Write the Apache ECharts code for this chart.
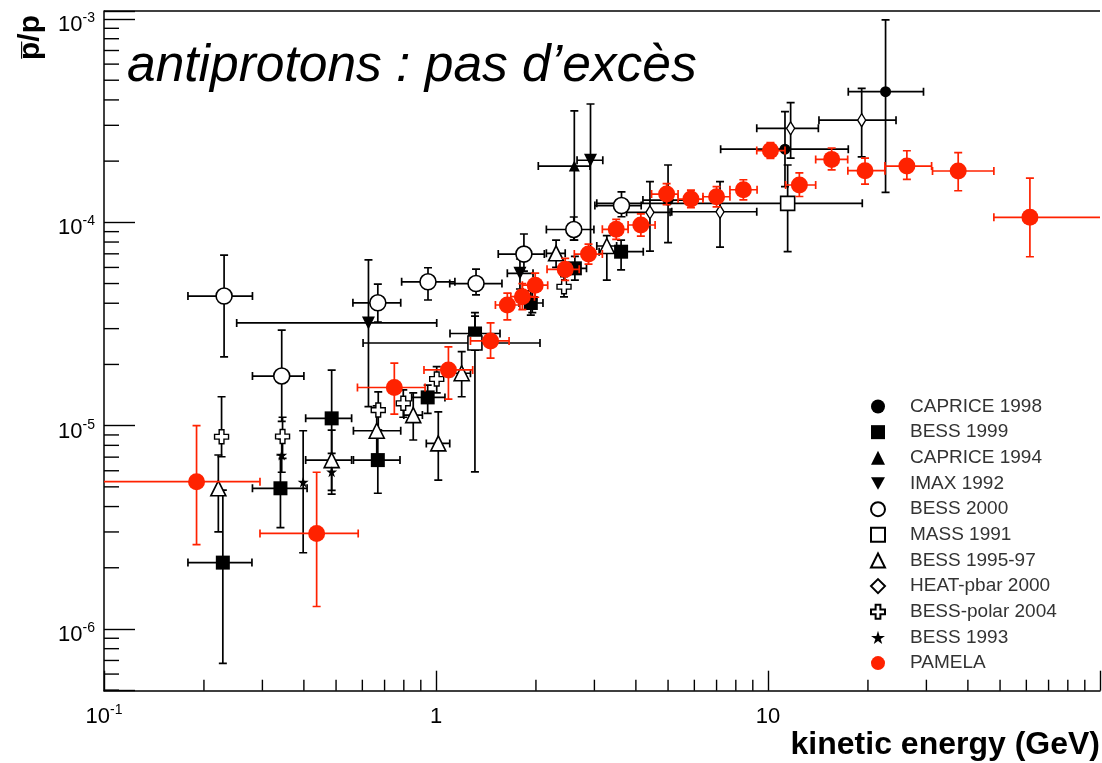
<!DOCTYPE html>
<html><head><meta charset="utf-8">
<script src="https://cdn.jsdelivr.net/npm/echarts@6/dist/echarts.min.js"></script>
<style>html,body{margin:0;padding:0;background:#fff}#c{width:1102px;height:763px}</style>
</head><body><div id="c"></div>
<script>
const FONT = "'Liberation Sans', Arial, Helvetica, sans-serif";

// axis ranges (values)
const X_MIN = 0.1, X_MAX = 100;
const Y_MIN = 4.97e-7, Y_MAX = 1.095e-3;

// each row: [energy, pbar/p, xLow, xHigh, yLow, yHigh]  (0 = no bar)
const caprice1998 = [
  [5.0, 1.287e-4, 4.2, 5.95, 7.94e-5, 1.914e-4],
  [11.25, 2.29e-4, 7.2, 17.45, 1.5e-4, 3.5e-4],
  [22.6, 4.39e-4, 17.45, 29.4, 1.405e-4, 9.9e-4]
];
const bess1999 = [
  [0.228, 2.12e-6, 0.179, 0.279, 6.77e-7, 4.82e-6],
  [0.340, 4.92e-6, 0.280, 0.409, 3.15e-6, 7.17e-6],
  [0.485, 1.086e-5, 0.405, 0.557, 6.5e-6, 1.877e-5],
  [0.668, 6.77e-6, 0.564, 0.779, 4.65e-6, 9.51e-6],
  [0.944, 1.377e-5, 0.845, 1.064, 1.149e-5, 1.584e-5],
  [1.311, 2.84e-5, 1.102, 1.559, 2.35e-5, 3.46e-5],
  [1.93, 4.01e-5, 1.78, 2.10, 3.5e-5, 4.6e-5],
  [2.62, 5.94e-5, 2.42, 2.84, 5.2e-5, 6.8e-5],
  [3.61, 7.17e-5, 3.10, 4.21, 5.83e-5, 8.18e-5]
];
const caprice1994 = [
  [2.61, 1.892e-4, 2.033, 2.91, 8.18e-5, 3.53e-4]
];
const imax1992 = [
  [0.626, 3.2e-5, 0.251, 1.005, 1.24e-5, 6.53e-5],
  [1.79, 5.61e-5, 1.64, 1.96, 4.7e-5, 6.6e-5],
  [2.92, 2.02e-4, 2.66, 3.18, 7.3e-5, 3.82e-4]
];
const bess2000 = [
  [0.230, 4.34e-5, 0.179, 0.280, 2.18e-5, 6.9e-5],
  [0.343, 1.754e-5, 0.280, 0.400, 1.05e-5, 2.95e-5],
  [0.668, 4.02e-5, 0.562, 0.783, 3.23e-5, 4.97e-5],
  [0.946, 5.1e-5, 0.788, 1.14, 4.15e-5, 5.98e-5],
  [1.32, 5.0e-5, 1.10, 1.58, 4.4e-5, 5.89e-5],
  [1.84, 6.98e-5, 1.54, 2.12, 5.76e-5, 8.76e-5],
  [2.60, 9.22e-5, 2.15, 2.99, 8.18e-5, 1.062e-4],
  [3.62, 1.209e-4, 3.01, 4.15, 1.065e-4, 1.413e-4]
];
const mass1991 = [
  [1.31, 2.55e-5, 0.603, 2.057, 5.93e-6, 3.6e-5],
  [11.46, 1.24e-4, 3.05, 19.23, 7.17e-5, 1.914e-4]
];
const bess199597 = [
  [0.221, 4.92e-6, 0, 0, 3.0e-6, 7.17e-6],
  [0.485, 6.77e-6, 0.405, 0.557, 4.6e-6, 9.5e-6],
  [0.663, 9.44e-6, 0.564, 0.783, 7.2e-6, 1.25e-5],
  [0.854, 1.127e-5, 0.80, 0.91, 8.5e-6, 1.45e-5],
  [1.016, 8.18e-6, 0.935, 1.10, 5.4e-6, 1.17e-5],
  [1.195, 1.81e-5, 1.12, 1.27, 1.387e-5, 2.31e-5],
  [2.30, 7.04e-5, 2.15, 2.45, 6.0e-5, 8.18e-5],
  [3.27, 7.65e-5, 3.05, 3.50, 5.2e-5, 8.6e-5]
];
const heat2000 = [
  [4.41, 1.12e-4, 3.75, 5.07, 7.22e-5, 1.584e-4],
  [7.17, 1.127e-4, 5.13, 9.25, 7.56e-5, 1.584e-4],
  [11.7, 2.9e-4, 9.25, 14.18, 2.07e-4, 3.88e-4],
  [19.15, 3.18e-4, 14.24, 24.3, 2.1e-4, 4.56e-4]
];
const bessPolar2004 = [
  [0.226, 8.82e-6, 0, 0, 7.03e-6, 1.387e-5],
  [0.345, 8.84e-6, 0, 0, 6.9e-6, 1.1e-5],
  [0.670, 1.193e-5, 0, 0, 9.5e-6, 1.467e-5],
  [0.797, 1.288e-5, 0, 0, 1.1e-5, 1.5e-5],
  [1.005, 1.696e-5, 0, 0, 1.45e-5, 1.95e-5],
  [2.43, 4.82e-5, 0, 0, 4.3e-5, 5.4e-5]
];
const bess1993 = [
  [0.343, 7.17e-6, 0, 0, 5.9e-6, 8.6e-6],
  [0.398, 5.28e-6, 0, 0, 2.37e-6, 9.44e-6],
  [0.485, 5.93e-6, 0, 0, 4.8e-6, 7.3e-6],
  [1.95, 4.1e-5, 0, 0, 3.6e-5, 4.7e-5]
];
const pamela = [
  [0.19, 5.3e-6, 0.06, 0.295, 2.6e-6, 1.0e-5],
  [0.437, 2.95e-6, 0.295, 0.583, 1.29e-6, 5.9e-6],
  [0.749, 1.54e-5, 0.58, 0.927, 1.14e-5, 2.03e-5],
  [1.09, 1.88e-5, 0.92, 1.29, 1.35e-5, 2.44e-5],
  [1.46, 2.61e-5, 1.27, 1.66, 2.15e-5, 3.2e-5],
  [1.64, 3.92e-5, 1.51, 1.79, 3.31e-5, 4.49e-5],
  [1.82, 4.31e-5, 1.68, 1.98, 3.72e-5, 5.0e-5],
  [1.99, 4.91e-5, 1.82, 2.17, 4.28e-5, 5.63e-5],
  [2.45, 5.87e-5, 2.16, 2.70, 5.18e-5, 6.65e-5],
  [2.88, 6.98e-5, 2.61, 3.17, 6.23e-5, 7.82e-5],
  [3.49, 9.24e-5, 3.17, 3.79, 8.25e-5, 1.035e-4],
  [4.14, 9.70e-5, 3.79, 4.57, 8.56e-5, 1.10e-4],
  [4.95, 1.377e-4, 4.46, 5.36, 1.22e-4, 1.55e-4],
  [5.86, 1.302e-4, 5.36, 6.37, 1.18e-4, 1.44e-4],
  [7.0, 1.336e-4, 6.37, 7.68, 1.19e-4, 1.50e-4],
  [8.43, 1.446e-4, 7.68, 9.27, 1.29e-4, 1.62e-4],
  [10.17, 2.255e-4, 9.25, 11.25, 2.06e-4, 2.47e-4],
  [12.43, 1.526e-4, 11.3, 13.92, 1.34e-4, 1.75e-4],
  [15.55, 2.04e-4, 13.92, 17.38, 1.81e-4, 2.32e-4],
  [19.6, 1.794e-4, 17.4, 22.5, 1.543e-4, 2.07e-4],
  [26.2, 1.892e-4, 22.5, 31.1, 1.627e-4, 2.25e-4],
  [37.4, 1.788e-4, 31.3, 47.9, 1.43e-4, 2.2e-4],
  [61.5, 1.058e-4, 47.9, 110, 6.77e-5, 1.651e-4]
];

const legendNames = ['CAPRICE 1998','BESS 1999','CAPRICE 1994','IMAX 1992','BESS 2000','MASS 1991',
  'BESS 1995-97','HEAT-pbar 2000','BESS-polar 2004','BESS 1993','PAMELA'];
const titleText = 'antiprotons : pas d\u2019excès';
const xTitle = 'kinetic energy (GeV)';
const yTitle = 'p\u0305/p';
const minorMultipliers = [2,3,4,5,6,7,8,9];

const RED = '#ff2200';
const DOWN_TRI = 'path://M0,0 L10,0 L5,9 Z';
const CROSS = 'path://M3.3,0 L6.7,0 L6.7,3.3 L10,3.3 L10,6.7 L6.7,6.7 L6.7,10 L3.3,10 L3.3,6.7 L0,6.7 L0,3.3 L3.3,3.3 Z';
const STAR = 'path://M50,0 L61,35 L98,35 L68,57 L79,91 L50,70 L21,91 L32,57 L2,35 L39,35 Z';

const sets = [
  {name:'CAPRICE 1998', data:caprice1998, symbol:'circle', size:11, fill:'#000', border:'#000', bw:0},
  {name:'BESS 1999', data:bess1999, symbol:'rect', size:14, fill:'#000', border:'#000', bw:0},
  {name:'CAPRICE 1994', data:caprice1994, symbol:'triangle', size:11, fill:'#000', border:'#000', bw:0},
  {name:'IMAX 1992', data:imax1992, symbol:DOWN_TRI, size:13, fill:'#000', border:'#000', bw:0},
  {name:'BESS 2000', data:bess2000, symbol:'circle', size:16, fill:'#fff', border:'#000', bw:1.6},
  {name:'MASS 1991', data:mass1991, symbol:'rect', size:14, fill:'#fff', border:'#000', bw:1.6},
  {name:'BESS 1995-97', data:bess199597, symbol:'triangle', size:15, fill:'#fff', border:'#000', bw:1.6},
  {name:'HEAT-pbar 2000', data:heat2000, symbol:'diamond', size:[8,13], fill:'#fff', border:'#000', bw:1.4},
  {name:'BESS-polar 2004', data:bessPolar2004, symbol:CROSS, size:14, fill:'#fff', border:'#000', bw:1.4},
  {name:'BESS 1993', data:bess1993, symbol:STAR, size:11, fill:'#000', border:'#000', bw:0},
  {name:'PAMELA', data:pamela, symbol:'circle', size:17, fill:RED, border:RED, bw:0}
];

function makeErr(color){
  return function(params, api){
    const x = api.value(0), y = api.value(1);
    const xlo = api.value(2), xhi = api.value(3), ylo = api.value(4), yhi = api.value(5);
    const c = api.coord([x, y]);
    const st = {stroke: color, lineWidth: 1.7, fill: null};
    const cap = 4, k = [];
    if (xlo > 0 && xhi > 0) {
      const a = api.coord([xlo, y]), b = api.coord([xhi, y]);
      k.push({type:'line', shape:{x1:a[0], y1:c[1], x2:b[0], y2:c[1]}, style:st});
      k.push({type:'line', shape:{x1:a[0], y1:c[1]-cap, x2:a[0], y2:c[1]+cap}, style:st});
      k.push({type:'line', shape:{x1:b[0], y1:c[1]-cap, x2:b[0], y2:c[1]+cap}, style:st});
    }
    if (ylo > 0 && yhi > 0) {
      const a = api.coord([x, ylo]), b = api.coord([x, yhi]);
      k.push({type:'line', shape:{x1:c[0], y1:a[1], x2:c[0], y2:b[1]}, style:st});
      k.push({type:'line', shape:{x1:c[0]-cap, y1:a[1], x2:c[0]+cap, y2:a[1]}, style:st});
      k.push({type:'line', shape:{x1:c[0]-cap, y1:b[1], x2:c[0]+cap, y2:b[1]}, style:st});
    }
    return {type:'group', children:k};
  };
}

const series = [];
sets.forEach(function(s){
  const isRed = s.name === 'PAMELA';
  series.push({
    type:'custom', name:'err ' + s.name, data:s.data, renderItem:makeErr(isRed ? RED : '#000'),
    encode:{x:0, y:1}, clip:true, silent:true, z: isRed ? 4 : 2
  });
  series.push({
    type:'scatter', name:s.name, data:s.data.map(function(d){return [d[0], d[1]];}),
    symbol:s.symbol, symbolSize:s.size, silent:true, z: isRed ? 5 : 3,
    itemStyle:{color:s.fill, borderColor:s.border, borderWidth:s.bw, opacity:1}
  });
});

// minor ticks at 2..9 x decade (drawn through the axes' scales)
const xMinor = [], yMinor = [];
for (let e = -1; e <= 1; e++) minorMultipliers.forEach(function(m){ const v = m*Math.pow(10,e); if (v < X_MAX) xMinor.push([v, Y_MIN]); });
for (let e = -7; e <= -3; e++) minorMultipliers.forEach(function(m){ const v = m*Math.pow(10,e); if (v > Y_MIN && v < Y_MAX) yMinor.push([X_MIN, v]); });
series.push({type:'custom', name:'xminor', data:xMinor, encode:{x:0,y:1}, silent:true, z:6,
  renderItem:function(p, api){ const c = api.coord([api.value(0), api.value(1)]);
    return {type:'line', shape:{x1:c[0], y1:c[1], x2:c[0], y2:c[1]-11}, style:{stroke:'#000', lineWidth:1.4}}; }});
series.push({type:'custom', name:'yminor', data:yMinor, encode:{x:0,y:1}, silent:true, z:6,
  renderItem:function(p, api){ const c = api.coord([api.value(0), api.value(1)]);
    return {type:'line', shape:{x1:c[0], y1:c[1], x2:c[0]+15, y2:c[1]}, style:{stroke:'#000', lineWidth:1.4}}; }});
// top frame line, drawn through the axes' scales
series.push({type:'custom', name:'frameTop', data:[[X_MIN, Y_MAX, X_MAX]], encode:{x:0,y:1}, silent:true, z:6,
  renderItem:function(p, api){ const a = api.coord([api.value(0), api.value(1)]), b = api.coord([api.value(2), api.value(1)]);
    return {type:'line', shape:{x1:a[0], y1:a[1], x2:b[0], y2:b[1]}, style:{stroke:'#000', lineWidth:1.5}}; }});

function decade(v){
  const l = Math.log10(v), e = Math.round(l);
  return Math.abs(l - e) < 1e-6 ? e : null;
}
const rich = {
  b:{fontFamily:FONT, fontSize:22, color:'#000', lineHeight:28},
  s:{fontFamily:FONT, fontSize:14, color:'#000', padding:[0,0,14,0]}
};

const chart = echarts.init(document.getElementById('c'), null, {renderer:'canvas'});
chart.setOption({
  animation:false,
  backgroundColor:'#fff',
  title:{text:titleText, left:127, top:41, padding:0,
    textStyle:{fontFamily:FONT, fontStyle:'italic', fontWeight:'normal', fontSize:51.5, color:'#000'}},
  legend:{orient:'vertical', left:870, top:397, padding:0, itemWidth:14, itemHeight:14, itemGap:6.66,
    selectedMode:false, data:legendNames,
    textStyle:{fontFamily:FONT, fontSize:19, color:'#333', lineHeight:19, padding:[0,0,0,20]}},
  grid:{left:104, right:2, top:11, bottom:72.3, containLabel:false, outerBoundsMode:'none'},
  xAxis:{
    type:'log', logBase:10, min:X_MIN, max:X_MAX, position:'bottom',
    name:xTitle, nameLocation:'end', nameGap:0, nameMoveOverlap:false,
    nameTextStyle:{fontFamily:FONT, fontWeight:'bold', fontSize:32, color:'#000', align:'right', verticalAlign:'top', padding:[38,0,0,0]},
    axisLine:{show:true, onZero:false, lineStyle:{color:'#000', width:1.5}},
    axisTick:{show:true, inside:true, length:20, lineStyle:{color:'#000', width:1.4}},
    minorTick:{show:false}, splitLine:{show:false},
    axisLabel:{show:true, margin:12, rich:rich, hideOverlap:false, showMinLabel:true, showMaxLabel:true,
      formatter:function(v){ const e = decade(v); if (e === null || e >= 2) return '';
        if (e === 0) return '{b|1}'; if (e === 1) return '{b|10}'; return '{b|10}{s|' + e + '}'; }}
  },
  yAxis:{
    type:'log', logBase:10, min:Y_MIN, max:Y_MAX,
    name:yTitle, nameLocation:'end', nameGap:-4, nameRotate:90, nameMoveOverlap:false,
    nameTextStyle:{fontFamily:FONT, fontWeight:'bold', fontSize:30, color:'#000', align:'right', verticalAlign:'bottom', padding:[0,0,58,0]},
    axisLine:{show:true, onZero:false, lineStyle:{color:'#000', width:1.5}},
    axisTick:{show:true, inside:true, length:31, lineStyle:{color:'#000', width:1.4}},
    minorTick:{show:false}, splitLine:{show:false},
    axisLabel:{show:true, margin:9, rich:rich, padding:[12,0,0,0], hideOverlap:false,
      formatter:function(v){ const e = decade(v); if (e === null) return ''; return '{b|10}{s|' + e + '}'; }}
  },
  series:series
});
</script></body></html>
